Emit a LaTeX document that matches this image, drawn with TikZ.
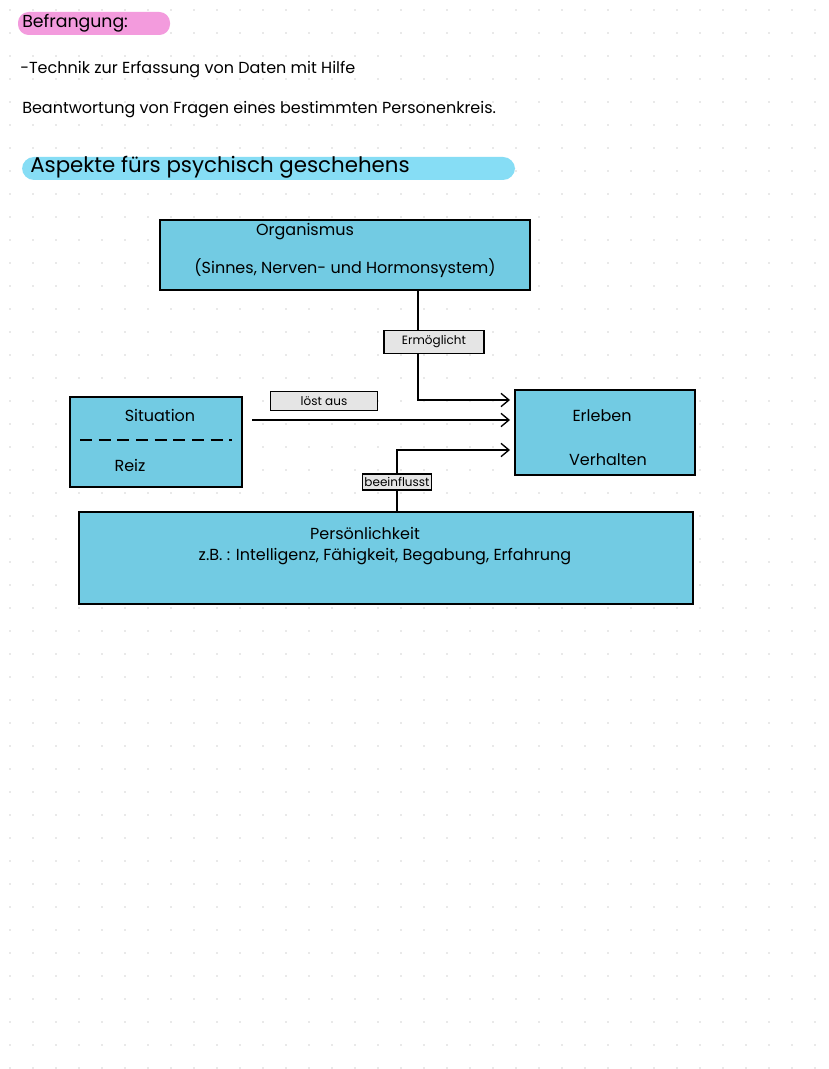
\documentclass[tikz,border=0pt]{standalone}
\usepackage{fontspec}
\setmainfont{Poppins}
\usetikzlibrary{arrows.meta}
\definecolor{blu}{HTML}{72CBE3}
\definecolor{pinkh}{HTML}{F39BDD}
\definecolor{cyanh}{HTML}{86DDF5}
\definecolor{dotc}{HTML}{D4D4D4}
\tikzset{
 bx/.style={draw=black,line width=1.2pt,fill=blu},
 lbl/.style={draw=black,line width=1pt,fill=black!10,inner sep=1.5pt,font=\fontsize{9}{10}\selectfont},
 con/.style={line width=1pt},
 arr/.style={con,-{Straight Barb[length=6pt,width=10pt]}},
 txt/.style={font=\fontsize{12}{14}\selectfont,inner sep=0pt},
}
\begin{document}
\begin{tikzpicture}[x=0.75pt,y=-0.75pt]
\useasboundingbox (0,0) rectangle (828,1069);
\fill[white] (0,0) rectangle (828,1069);
\foreach \i in {0,...,35}{\foreach \j in {0,...,46}{\fill[dotc] (10+23*\i,10+23*\j) circle (0.9);}}
% header
\fill[pinkh,rounded corners=8pt] (18,12) rectangle (170,35);
\node[txt,anchor=west,font=\fontsize{13}{15}\selectfont] (h) at (22,23) {Befrangung:};
\node[txt,anchor=west] (t1) at (20,70) {-Technik zur Erfassung von Daten mit Hilfe};
\node[txt,anchor=west] (t2) at (22,110) {Beantwortung von Fragen eines bestimmten Personenkreis.};
\fill[cyanh,rounded corners=9pt] (22,157) rectangle (515,180);
\node[txt,anchor=west,font=\fontsize{16}{18}\selectfont] (t3) at (30,167) {Aspekte fürs psychisch geschehens};
% boxes
\draw[bx] (160,220) rectangle (530,290);
\node[txt] (org1) at (305,232) {Organismus};
\node[txt] (org2) at (345,268) {(Sinnes, Nerven- und Hormonsystem)};
\coordinate (orgB) at (418,290);
\draw[bx] (70,397) rectangle (242,487);
\node[txt] (sit) at (160,415) {Situation};
\node[txt] (reiz) at (130,465) {Reiz};
\draw[line width=1.2pt,dash pattern=on 9pt off 5pt] (80,440) -- (232,440);
\coordinate (sitR) at (252,420);
\draw[bx] (515,390) rectangle (695,475);
\node[txt] (erl) at (602,416) {Erleben};
\node[txt] (ver) at (608,460) {Verhalten};
\coordinate (e1) at (510,400);
\coordinate (e2) at (510,420);
\coordinate (e3) at (510,450);
\draw[bx] (79,512) rectangle (693,604);
\node[txt] (p1) at (365,533) {Persönlichkeit};
\node[txt] (p2) at (385,557) {z.B. : Intelligenz, Fähigkeit, Begabung, Erfahrung};
\coordinate (pT) at (397,512);
% connectors
\draw[arr] (orgB) -- (418,400) -- (e1);
\draw[arr] (sitR) -- (e2);
\draw[arr] (pT) -- (397,450) -- (e3);
% labels
\node[lbl,minimum width=100pt*0.75,minimum height=17] (erm) at (434,342) {Ermöglicht};
\node[lbl,minimum width=80,minimum height=14,anchor=west] (los) at (270,401) {löst aus};
\node[lbl,minimum height=12] (bee) at (397,482) {beeinflusst};
\end{tikzpicture}
\end{document}
